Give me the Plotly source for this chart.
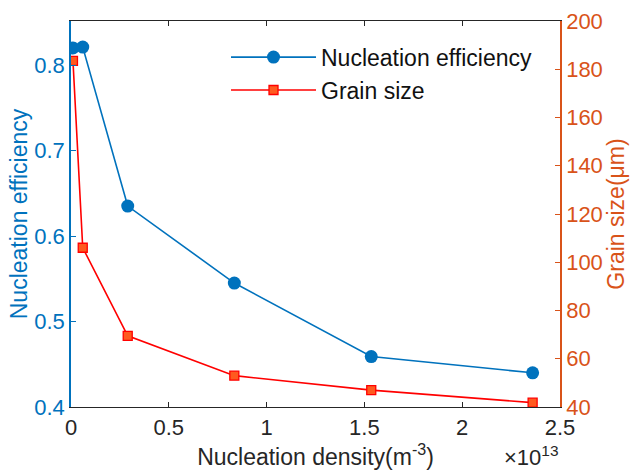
import plotly.graph_objects as go

# Nucleation density, in units of 1e13 m^-3
density = [0.01, 0.06, 0.29, 0.835, 1.535, 2.36]
efficiency = [0.820, 0.821, 0.635, 0.545, 0.459, 0.440]
grain_size = [183.5, 106.0, 69.5, 53.0, 47.0, 41.8]

x_ticks = [0, 0.5, 1, 1.5, 2, 2.5]
x_tick_text = ["0", "0.5", "1", "1.5", "2", "2.5"]
y1_ticks = [0.4, 0.5, 0.6, 0.7, 0.8]
y2_ticks = [40, 60, 80, 100, 120, 140, 160, 180, 200]

BLUE = "#0072BD"
ORANGE = "#D95319"
RED = "#FF0000"
FONT = "Arial, Liberation Sans, sans-serif"
TICK = 22
TITLE = 23

fig = go.Figure()
fig.add_trace(go.Scatter(
    x=density, y=efficiency, name="Nucleation efficiency",
    mode="lines+markers",
    line=dict(color=BLUE, width=1.6),
    marker=dict(symbol="circle", size=13, color=BLUE),
    yaxis="y",
))
fig.add_trace(go.Scatter(
    x=density, y=grain_size, name="Grain size",
    mode="lines+markers",
    line=dict(color=RED, width=1.6),
    marker=dict(symbol="square", size=9, color="#FF5A1F", line=dict(color=RED, width=1.3)),
    yaxis="y2",
))

fig.update_layout(
    width=632, height=472,
    margin=dict(l=71, r=72, t=21, b=65),
    paper_bgcolor="white", plot_bgcolor="white",
    font=dict(family=FONT, size=TICK, color="#262626"),
    showlegend=True,
    legend=dict(
        x=0.317, y=0.962, xanchor="left", yanchor="top",
        bgcolor="rgba(0,0,0,0)", borderwidth=0,
        font=dict(size=TITLE, color="#111111"),
        itemwidth=85, tracegroupgap=0,
    ),
    xaxis=dict(
        range=[0, 2.5], tickvals=x_ticks, ticktext=x_tick_text,
        ticks="inside", ticklen=5, tickcolor="#262626",
        showline=True, linecolor="#262626", linewidth=1.2, mirror="ticks",
        showgrid=False, zeroline=False, automargin=False,
        tickfont=dict(size=TICK, color="#262626"),
        title=dict(text="Nucleation density(m<sup>-3</sup>)", font=dict(size=TITLE, color="#262626"), standoff=10),
    ),
    yaxis=dict(
        range=[0.4, 0.8515], tickvals=y1_ticks, tickformat=".1f",
        ticks="inside", ticklen=5, tickcolor=BLUE,
        showline=True, linecolor=BLUE, linewidth=1.5,
        showgrid=False, zeroline=False, automargin=False,
        tickfont=dict(size=TICK, color=BLUE),
        title=dict(text="Nucleation efficiency", font=dict(size=TITLE, color=BLUE), standoff=0),
    ),
    yaxis2=dict(
        range=[40, 200], tickvals=y2_ticks,
        overlaying="y", side="right",
        ticks="inside", ticklen=5, tickcolor=ORANGE,
        showline=True, linecolor=ORANGE, linewidth=1.5,
        showgrid=False, zeroline=False, automargin=False,
        tickfont=dict(size=TICK, color=ORANGE),
        title=dict(text="Grain size(μm)", font=dict(size=TITLE, color=ORANGE), standoff=5),
    ),
)

fig.add_annotation(
    x=1.0, y=0, xref="paper", yref="paper",
    xanchor="right", yanchor="top", yshift=-33,
    text="×10<sup>13</sup>", showarrow=False,
    font=dict(size=TICK, color="#262626", family=FONT),
)

fig.write_html("out.html")
